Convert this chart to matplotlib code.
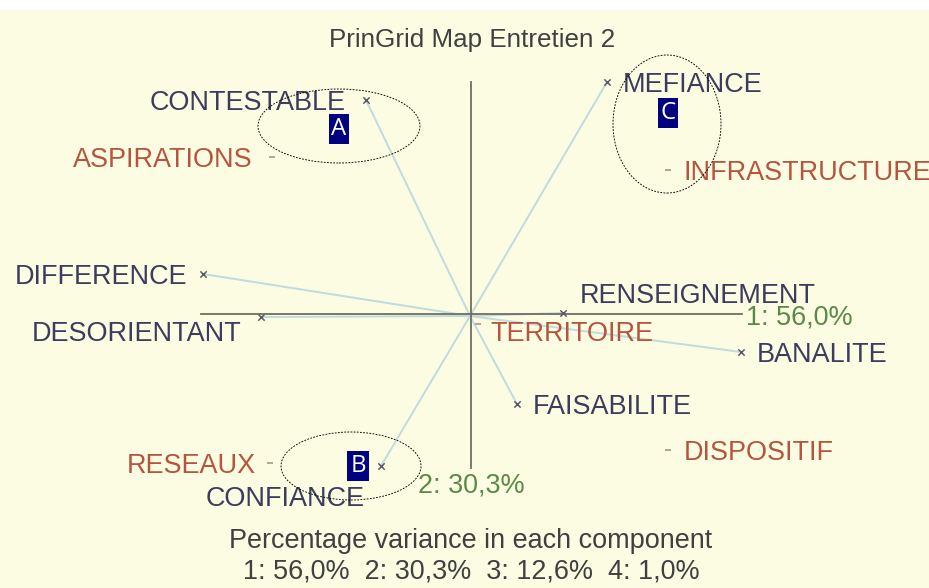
import matplotlib.pyplot as plt
from matplotlib.patches import Ellipse, Rectangle

# constructs (x markers, blue labels) - map coords
constructs = ['CONTESTABLE', 'DIFFERENCE', 'DESORIENTANT', 'MEFIANCE',
              'RENSEIGNEMENT', 'BANALITE', 'FAISABILITE', 'CONFIANCE']
con_x = [-1.04, -2.67, -2.09, 1.37, 0.93, 2.71, 0.47, -0.89]
con_y = [2.16, 0.42, -0.01, 2.34, 0.03, -0.36, -0.88, -1.50]

# elements (small markers, red labels)
elements = ['ASPIRATIONS', 'INFRASTRUCTURE', 'TERRITOIRE', 'DISPOSITIF', 'RESEAUX']
el_x = [-1.98, 1.98, 0.08, 1.98, -2.00]
el_y = [1.59, 1.46, -0.08, -1.34, -1.47]

variance = [56.0, 30.3, 12.6, 1.0]

# hand-drawn groupings: label, centre x, centre y, width, height
groups = ['A', 'B', 'C']
grp_x = [-1.31, -1.19, 1.97]
grp_y = [1.90, -1.50, 1.92]
grp_w = [1.62, 1.40, 1.08]
grp_h = [0.74, 0.68, 1.38]

# label placement (offset in points, alignment)
place = {
    'CONTESTABLE': (-20, 0, 'right'), 'DIFFERENCE': (-16, 0, 'right'),
    'DESORIENTANT': (-20, -14, 'right'), 'MEFIANCE': (16, 0, 'left'),
    'RENSEIGNEMENT': (17, 20, 'left'), 'BANALITE': (16, 0, 'left'),
    'FAISABILITE': (16, 0, 'left'), 'CONFIANCE': (-16, -30, 'right'),
    'ASPIRATIONS': (-19, 0, 'right'), 'INFRASTRUCTURE': (15, 0, 'left'),
    'TERRITOIRE': (12, -7, 'left'), 'DISPOSITIF': (16, 0, 'left'),
    'RESEAUX': (-14, 0, 'right'),
}

plt.rcParams['font.family'] = ['Liberation Sans', 'DejaVu Sans']
bg = '#fcfce2'
con_col = '#3c3c5e'
el_col = '#b5553f'
green = '#5b8a48'
axis_col = '#6e6e60'
vec_col = '#c2dbdc'
fs = 27

fig = plt.figure(figsize=(929 / 72, 588 / 72), dpi=72, facecolor=bg)
ax = fig.add_axes([0, 0, 1, 1])
ax.set_facecolor(bg)
ax.set_xlim(-4.70, 4.59)
ax.set_ylim(-2.72, 3.16)
ax.axis('off')

# white strip along top edge
fig.patches.append(Rectangle((0, 1 - 10 / 588), 1, 10 / 588, transform=fig.transFigure,
                             facecolor='white', edgecolor='none', zorder=0))

# component axes spanning the constructs
ax.plot([min(con_x) - 0.02, max(con_x) + 0.01], [0.02, 0.02], color=axis_col, lw=1.8, zorder=2)
ax.plot([0.01, 0.01], [min(con_y) - 0.02, max(con_y)], color=axis_col, lw=1.8, zorder=2)
ax.annotate(('1: %.1f%%' % variance[0]).replace('.', ','), (max(con_x) + 0.01, 0.02),
            xytext=(4, -3), textcoords='offset points', ha='left', va='center',
            fontsize=fs, color=green, zorder=3)
ax.annotate(('2: %.1f%%' % variance[1]).replace('.', ','), (0.01, min(con_y) - 0.02),
            xytext=(-53, -17), textcoords='offset points', ha='left', va='center',
            fontsize=fs, color=green)

# construct vectors
for x, y in zip(con_x, con_y):
    ax.plot([0, x], [0, y], color=vec_col, lw=2, zorder=1)
ax.scatter(con_x, con_y, marker='x', s=40, color='#585868', lw=1.5, zorder=3)
ax.scatter(el_x, el_y, marker='_', s=40, color='#a08a80', lw=1.5, zorder=3)

for name, x, y in zip(constructs, con_x, con_y):
    dx, dy, ha = place[name]
    ax.annotate(name, (x, y), xytext=(dx, dy), textcoords='offset points',
                ha=ha, va='center_baseline', fontsize=fs, color=con_col, zorder=4)
for name, x, y in zip(elements, el_x, el_y):
    dx, dy, ha = place[name]
    ax.annotate(name, (x, y), xytext=(dx, dy), textcoords='offset points',
                ha=ha, va='center_baseline', fontsize=fs, color=el_col, zorder=4)

# hand-drawn groups
for g, x, y, w, h in zip(groups, grp_x, grp_y, grp_w, grp_h):
    ax.add_patch(Ellipse((x, y), w, h, fill=False, edgecolor='black', lw=0.9,
                         linestyle=(0, (2, 1.5)), zorder=5))
lab_x = [-1.31, -1.12, 1.98]
lab_y = [1.87, -1.50, 2.03]
for g, x, y in zip(groups, lab_x, lab_y):
    ax.text(x, y, g, ha='center', va='center', fontsize=24, color='white', zorder=6,
            family=['Open Sans', 'DejaVu Sans'],
            bbox=dict(boxstyle='square,pad=0.12', facecolor='#000080', edgecolor='none'))

fig.text(472 / 929, 1 - 40 / 588, 'PrinGrid Map Entretien 2', ha='center', va='center',
         fontsize=26, color='#404040')
fig.text(471 / 929, 1 - 541 / 588, 'Percentage variance in each component', ha='center',
         va='center', fontsize=fs, color='#404040')
bottom = '  '.join(('%d: %.1f%%' % (i + 1, v)).replace('.', ',') for i, v in enumerate(variance))
fig.text(471 / 929, 1 - 571 / 588, bottom, ha='center', va='center', fontsize=fs,
         color='#404040')

plt.savefig('out.png', dpi=72, facecolor=bg)
